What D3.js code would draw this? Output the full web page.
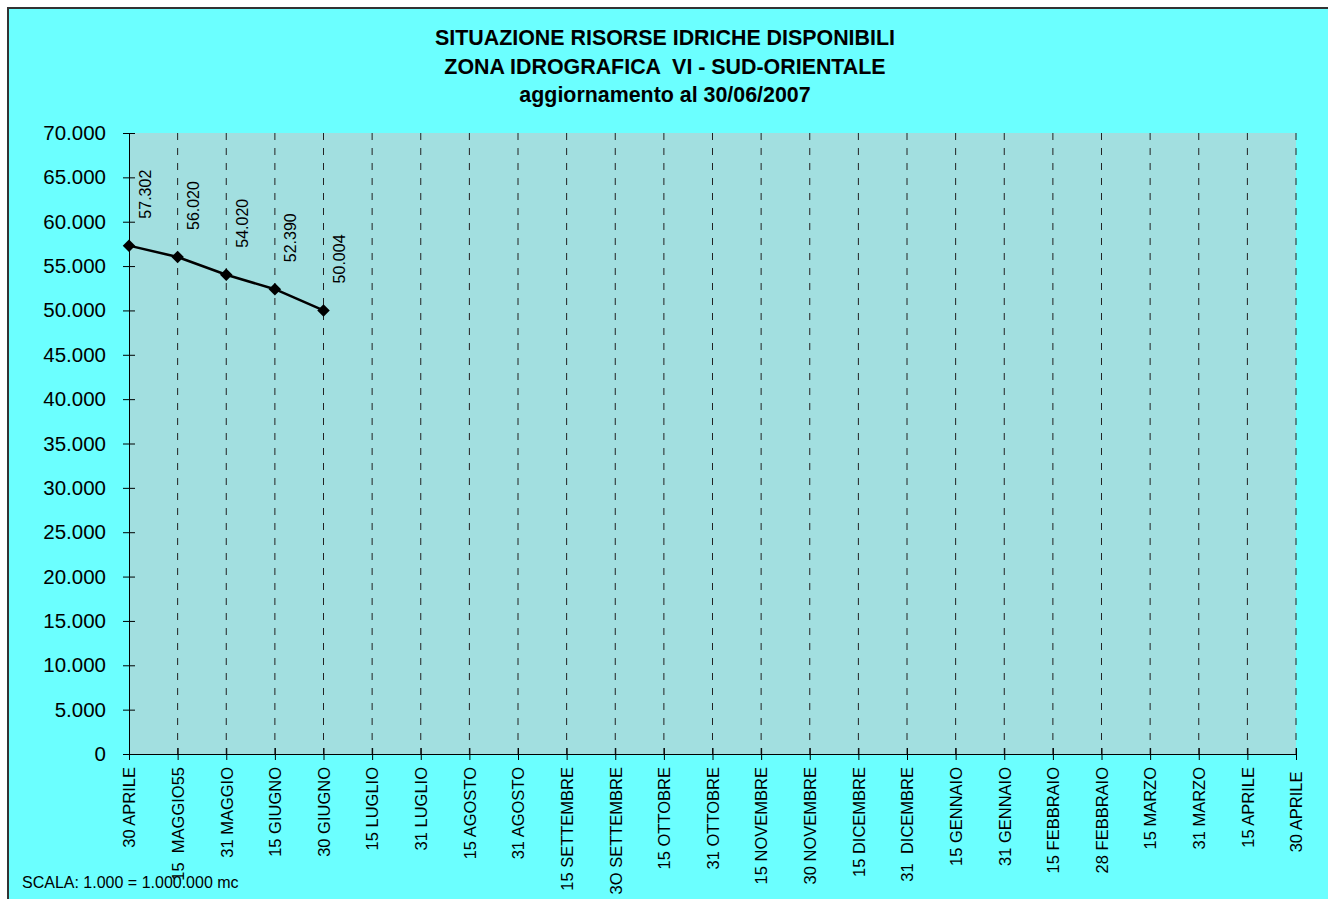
<!DOCTYPE html>
<html>
<head>
<meta charset="utf-8">
<script src="https://cdn.jsdelivr.net/npm/d3@7/dist/d3.min.js"></script>
<style>
  body { margin: 0; background: #ffffff; }
  text { font-family: "Liberation Sans", Arial, sans-serif; fill: #000; }
</style>
</head>
<body>
<script>
var categories = ["30 APRILE", "15  MAGGIO55", "31 MAGGIO", "15 GIUGNO", "30 GIUGNO",
  "15 LUGLIO", "31 LUGLIO", "15 AGOSTO", "31 AGOSTO", "15 SETTEMBRE", "3O SETTEMBRE",
  "15 OTTOBRE", "31 OTTOBRE", "15 NOVEMBRE", "30 NOVEMBRE", "15 DICEMBRE", "31  DICEMBRE",
  "15 GENNAIO", "31 GENNAIO", "15 FEBBRAIO", "28 FEBBRAIO", "15 MARZO", "31 MARZO",
  "15 APRILE", "30 APRILE "];
var values = [57302, 56020, 54020, 52390, 50004];
var yTicks = [0, 5000, 10000, 15000, 20000, 25000, 30000, 35000, 40000, 45000,
  50000, 55000, 60000, 65000, 70000];
var titleLines = ["SITUAZIONE RISORSE IDRICHE DISPONIBILI",
  "ZONA IDROGRAFICA  VI - SUD-ORIENTALE",
  "aggiornamento al 30/06/2007"];
var note = "SCALA: 1.000 = 1.000.000 mc";

var svgWidth = 1328;
var svgHeight = 899;
var plotLeft = 129, plotRight = 1296, plotTop = 133, plotBottom = 754;

var svg = d3.select("body")
  .append("svg")
  .attr("width", svgWidth)
  .attr("height", svgHeight);

// chart background + frame (right/bottom edges run off the picture)
svg.append("rect")
  .attr("x", 8)
  .attr("y", 8)
  .attr("width", svgWidth + 20)
  .attr("height", svgHeight + 20)
  .style("fill", "#6bffff")
  .style("stroke", "#333")
  .style("stroke-width", 2);

var xScale = d3.scalePoint()
  .domain(categories)
  .range([plotLeft, plotRight]);

var yScale = d3.scaleLinear()
  .domain([0, 70000])
  .range([plotBottom, plotTop]);

// plot area
svg.append("rect")
  .attr("x", plotLeft)
  .attr("y", plotTop)
  .attr("width", plotRight - plotLeft)
  .attr("height", plotBottom - plotTop)
  .style("fill", "#a2dfe0");

// dashed grid
svg.selectAll(".grid")
  .data(categories.slice(1))
  .enter()
  .append("line")
  .attr("class", "grid")
  .attr("x1", function(d) { return xScale(d); })
  .attr("x2", function(d) { return xScale(d); })
  .attr("y1", plotTop)
  .attr("y2", plotBottom)
  .style("stroke", "#222")
  .style("stroke-width", 1)
  .style("stroke-dasharray", "7,8");

// title
svg.append("text")
  .attr("x", 665)
  .attr("y", 45)
  .attr("text-anchor", "middle")
  .style("font-size", "21.4px")
  .style("font-weight", "bold")
  .style("white-space", "pre")
  .selectAll("tspan")
  .data(titleLines)
  .enter()
  .append("tspan")
  .attr("x", 665)
  .attr("dy", function(d, i) { return i == 0 ? 0 : 28.5; })
  .text(function(d) { return d; });

// y axis
var fmt = function(d) { return d == 0 ? "0" : d3.format(",")(d).replace(/,/g, "."); };
var yAxis = svg.append("g")
  .attr("transform", "translate(" + plotLeft + ",0)")
  .call(d3.axisLeft(yScale).tickValues(yTicks).tickFormat(fmt).tickSize(6).tickSizeOuter(0).tickPadding(17));
yAxis.selectAll(".tick").append("line").attr("x2", 6).attr("stroke", "#000");
yAxis.selectAll("text").style("font-size", "20.5px");

// x axis
var xAxis = svg.append("g")
  .attr("transform", "translate(0," + plotBottom + ")")
  .call(d3.axisBottom(xScale).tickSize(6).tickSizeOuter(0));
xAxis.selectAll(".tick").append("line").attr("y2", -6).attr("stroke", "#000");
xAxis.selectAll("text")
  .style("font-size", "16.5px")
  .style("white-space", "pre")
  .attr("text-anchor", "end")
  .attr("transform", "rotate(-90)")
  .attr("x", -13)
  .attr("y", 0)
  .attr("dy", "0.35em");
svg.selectAll(".domain").style("stroke", "#000");

// line
var line = d3.line()
  .x(function(d, i) { return xScale(categories[i]); })
  .y(function(d) { return yScale(d); });

svg.append("path")
  .datum(values)
  .attr("d", line)
  .style("fill", "none")
  .style("stroke", "#000")
  .style("stroke-width", 2.5);

svg.selectAll(".marker")
  .data(values)
  .enter()
  .append("path")
  .attr("class", "marker")
  .attr("d", d3.symbol().type(d3.symbolDiamond2).size(100))
  .attr("transform", function(d, i) {
    return "translate(" + xScale(categories[i]) + "," + yScale(d) + ")";
  })
  .style("fill", "#000");

// data labels
svg.selectAll(".lbl")
  .data(values)
  .enter()
  .append("text")
  .attr("class", "lbl")
  .attr("transform", function(d, i) {
    return "translate(" + (xScale(categories[i]) + 16) + "," + (yScale(d) - 27) + ") rotate(-90)";
  })
  .attr("dy", "0.35em")
  .style("font-size", "16px")
  .text(function(d) { return fmt(d); });

svg.append("text")
  .attr("x", 22)
  .attr("y", 888)
  .style("font-size", "16px")
  .text(note);
</script>
</body>
</html>
